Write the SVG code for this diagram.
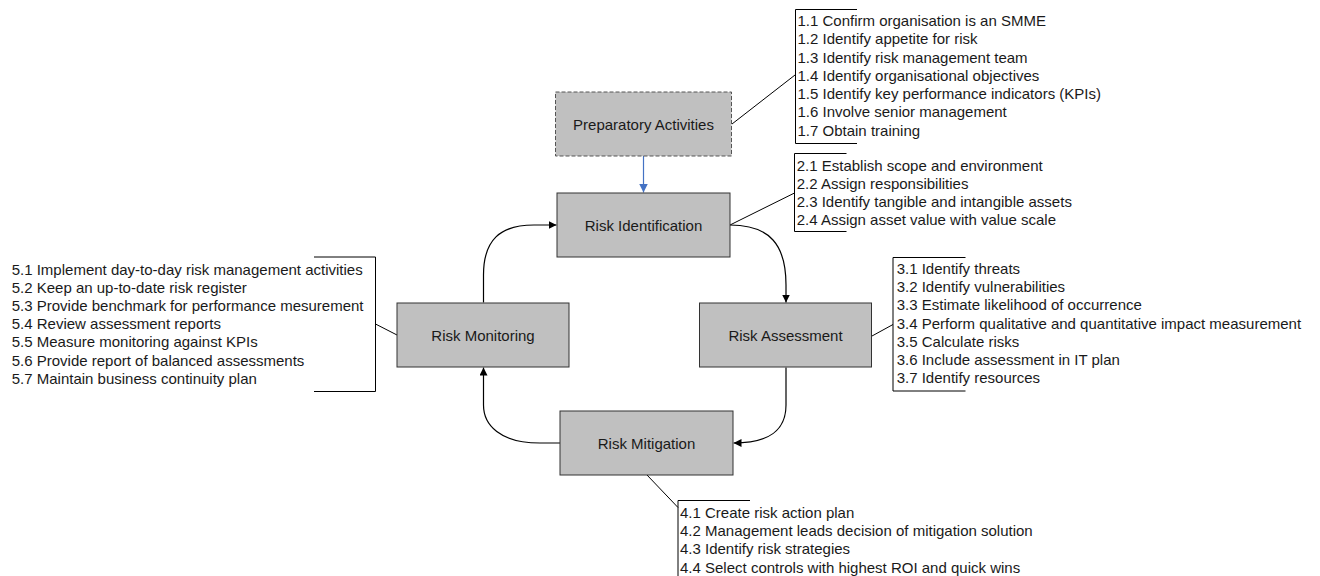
<svg xmlns="http://www.w3.org/2000/svg" width="1320" height="576" viewBox="0 0 1320 576">
<style>
  .box { fill: #c0c0c0; stroke: #333333; stroke-width: 1; }
  .dash { fill: #c0c0c0; stroke: #555555; stroke-width: 1; stroke-dasharray: 4 2; }
  .lbl { font-family: "Liberation Sans", Arial, sans-serif; font-size: 15px; fill: #1a1a1a; text-anchor: middle; }
  .note { font-family: "Liberation Sans", Arial, sans-serif; font-size: 15px; fill: #1a1a1a; }
  .brk { fill: none; stroke: #000000; stroke-width: 1; }
  .ln { fill: none; stroke: #000000; stroke-width: 1; }
  .flow { fill: none; stroke: #000000; stroke-width: 1.2; }
  .blue { fill: none; stroke: #4472c4; stroke-width: 1.2; }
</style>
<defs>
  <marker id="ah" viewBox="0 0 10 10" refX="10" refY="5" markerWidth="8" markerHeight="8" markerUnits="userSpaceOnUse" orient="auto">
    <path d="M0,0 L10,5 L0,10 z" fill="#000000"/>
  </marker>
  <marker id="ahb" viewBox="0 0 10 10" refX="10" refY="5" markerWidth="9" markerHeight="9" markerUnits="userSpaceOnUse" orient="auto">
    <path d="M0,0 L10,5 L0,10 z" fill="#4472c4"/>
  </marker>
</defs>

<g id="connectors">
  <path class="blue" d="M643.5,156 L643.5,192.5" marker-end="url(#ahb)"/>
  <path class="flow" d="M730,225 C770,225 786,245 786,285 L786,302.5" marker-end="url(#ah)"/>
  <path class="flow" d="M786,367.5 L786,405 C786,430 770,443 733.5,443" marker-end="url(#ah)"/>
  <path class="flow" d="M560,443 L540,443 C500,443 483.5,425 483.5,405 L483.5,367.5" marker-end="url(#ah)"/>
  <path class="flow" d="M483.5,302.5 L483.5,275 C483.5,240 500,225 534,225 L556.5,225" marker-end="url(#ah)"/>
  <path class="ln" d="M732,124 L795,75"/>
  <path class="ln" d="M730,225 L794.5,193"/>
  <path class="ln" d="M872,336 L893,324.5"/>
  <path class="ln" d="M647,475 L678,507.5"/>
  <path class="ln" d="M397,335 L375.5,324"/>
</g>

<g id="prep">
  <rect class="dash" x="555.5" y="92" width="176" height="64"/>
  <text class="lbl" x="643.5" y="129.5">Preparatory Activities</text>
</g>
<g id="risk-identification">
  <rect class="box" x="557" y="193" width="173" height="64"/>
  <text class="lbl" x="643.5" y="230.5">Risk Identification</text>
</g>
<g id="risk-assessment">
  <rect class="box" x="699.5" y="303" width="172" height="64"/>
  <text class="lbl" x="785.5" y="340.5">Risk Assessment</text>
</g>
<g id="risk-monitoring">
  <rect class="box" x="397" y="303" width="172" height="64"/>
  <text class="lbl" x="483" y="340.5">Risk Monitoring</text>
</g>
<g id="risk-mitigation">
  <rect class="box" x="560" y="411" width="173" height="64"/>
  <text class="lbl" x="646.5" y="448.5">Risk Mitigation</text>
</g>

<g id="notes-1">
  <path class="brk" d="M857,9.5 H795.5 V143.5 H857"/>
  <text class="note" x="797.5" y="26.2">1.1 Confirm organisation is an SMME</text>
  <text class="note" x="797.5" y="44.45">1.2 Identify appetite for risk</text>
  <text class="note" x="797.5" y="62.7">1.3 Identify risk management team</text>
  <text class="note" x="797.5" y="80.95">1.4 Identify organisational objectives</text>
  <text class="note" x="797.5" y="99.2">1.5 Identify key performance indicators (KPIs)</text>
  <text class="note" x="797.5" y="117.45">1.6 Involve senior management</text>
  <text class="note" x="797.5" y="135.7">1.7 Obtain training</text>
</g>
<g id="notes-2">
  <path class="brk" d="M846.5,153.5 H794.5 V231.5 H846.5"/>
  <text class="note" x="796.7" y="170.5">2.1 Establish scope and environment</text>
  <text class="note" x="796.7" y="188.75">2.2 Assign responsibilities</text>
  <text class="note" x="796.7" y="207">2.3 Identify tangible and intangible assets</text>
  <text class="note" x="796.7" y="225.25">2.4 Assign asset value with value scale</text>
</g>
<g id="notes-3">
  <path class="brk" d="M965.5,257.5 H893 V391 H965.5"/>
  <text class="note" x="896.7" y="273.8">3.1 Identify threats</text>
  <text class="note" x="896.7" y="292.05">3.2 Identify vulnerabilities</text>
  <text class="note" x="896.7" y="310.3">3.3 Estimate likelihood of occurrence</text>
  <text class="note" x="896.7" y="328.55">3.4 Perform qualitative and quantitative impact measurement</text>
  <text class="note" x="896.7" y="346.8">3.5 Calculate risks</text>
  <text class="note" x="896.7" y="365.05">3.6 Include assessment in IT plan</text>
  <text class="note" x="896.7" y="383.3">3.7 Identify resources</text>
</g>
<g id="notes-4">
  <path class="brk" d="M750,500.5 H678 V580"/>
  <text class="note" x="680" y="517.8">4.1 Create risk action plan</text>
  <text class="note" x="680" y="536.05">4.2 Management leads decision of mitigation solution</text>
  <text class="note" x="680" y="554.3">4.3 Identify risk strategies</text>
  <text class="note" x="680" y="572.55">4.4 Select controls with highest ROI and quick wins</text>
</g>
<g id="notes-5">
  <path class="brk" d="M314,257 H375.5 V391.5 H314"/>
  <text class="note" x="11.7" y="274.8">5.1 Implement day-to-day risk management activities</text>
  <text class="note" x="11.7" y="292.97">5.2 Keep an up-to-date risk register</text>
  <text class="note" x="11.7" y="311.14">5.3 Provide benchmark for performance mesurement</text>
  <text class="note" x="11.7" y="329.31">5.4 Review assessment reports</text>
  <text class="note" x="11.7" y="347.48">5.5 Measure monitoring against KPIs</text>
  <text class="note" x="11.7" y="365.65">5.6 Provide report of balanced assessments</text>
  <text class="note" x="11.7" y="383.8">5.7 Maintain business continuity plan</text>
</g>
</svg>
